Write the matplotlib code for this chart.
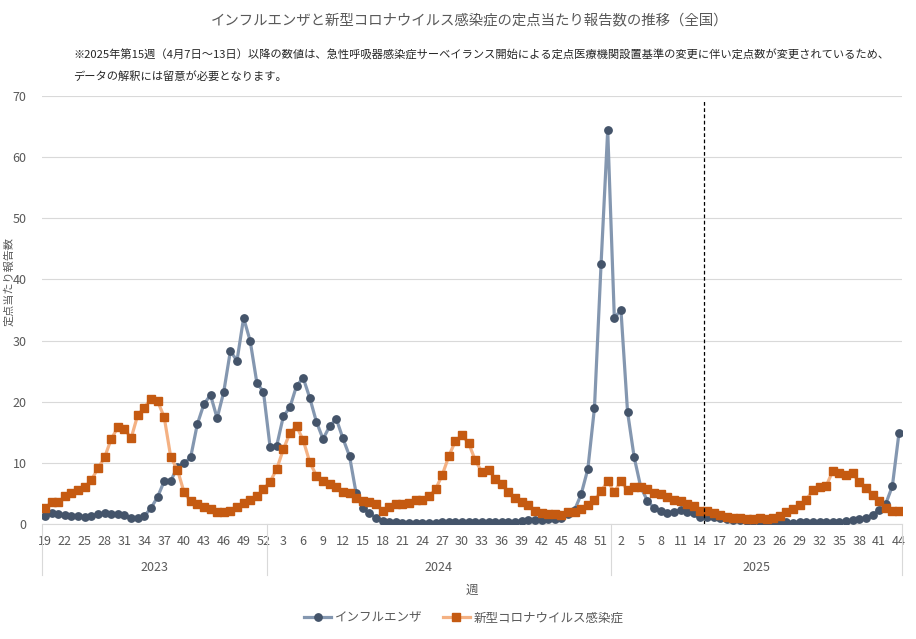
import numpy as np
import matplotlib
matplotlib.use("Agg")
import matplotlib.pyplot as plt

plt.rcParams['font.family'] = ['Noto Sans CJK JP', 'DejaVu Sans']

# weeks shown per year
years = [2023, 2024, 2025]
year_weeks = [list(range(19, 53)), list(range(1, 53)), list(range(1, 45))]

# インフルエンザ (per year)
flu_2023 = [1.3, 1.75, 1.6, 1.4, 1.25, 1.25, 1.1, 1.3, 1.6, 1.75, 1.6, 1.6, 1.4, 1.0, 1.0, 1.3,
            2.6, 4.4, 7.0, 7.0, 9.4, 9.9, 10.9, 16.3, 19.6, 21.1, 17.3, 21.6, 28.3, 26.7, 33.7,
            29.9, 23.1, 21.6]
flu_2024 = [12.6, 12.8, 17.6, 19.1, 22.6, 23.9, 20.6, 16.7, 13.9, 16.0, 17.2, 14.0, 11.1, 5.0,
            2.6, 1.8, 1.0, 0.45, 0.35, 0.3, 0.2, 0.2, 0.2, 0.2, 0.2, 0.2, 0.3, 0.3, 0.3, 0.3,
            0.3, 0.3, 0.3, 0.3, 0.3, 0.4, 0.4, 0.4, 0.55, 0.7, 0.7, 0.6, 0.75, 0.85, 0.9, 1.6,
            2.3, 4.9, 9.0, 19.0, 42.6, 64.4]
flu_2025 = [33.7, 35.0, 18.3, 10.9, 6.0, 3.8, 2.6, 2.1, 1.8, 2.0, 2.3, 2.0, 1.75, 1.1, 1.2,
            1.1, 0.9, 0.75, 0.6, 0.6, 0.45, 0.45, 0.3, 0.3, 0.3, 0.3, 0.3, 0.2, 0.3, 0.3, 0.3,
            0.3, 0.3, 0.3, 0.35, 0.45, 0.6, 0.75, 1.0, 1.5, 2.3, 3.3, 6.2, 14.9]

# 新型コロナウイルス感染症 (per year)
covid_2023 = [2.6, 3.55, 3.55, 4.5, 5.0, 5.5, 6.0, 7.2, 9.1, 10.9, 13.9, 15.8, 15.6, 14.0, 17.8,
              19.0, 20.5, 20.1, 17.5, 10.9, 8.9, 5.2, 3.7, 3.2, 2.7, 2.4, 1.9, 1.9, 2.2, 2.7,
              3.4, 4.0, 4.5, 5.7]
covid_2024 = [6.9, 9.0, 12.2, 14.9, 16.0, 13.7, 10.1, 7.9, 7.0, 6.5, 6.0, 5.2, 5.0, 4.2, 3.7,
              3.55, 3.2, 2.2, 2.7, 3.2, 3.2, 3.4, 3.9, 4.0, 4.5, 5.7, 8.0, 11.1, 13.6, 14.5,
              13.2, 10.4, 8.5, 8.9, 7.4, 6.5, 5.2, 4.2, 3.55, 3.1, 2.2, 1.75, 1.6, 1.6, 1.4,
              1.9, 1.9, 2.4, 3.1, 3.9, 5.35, 7.0]
covid_2025 = [5.2, 7.0, 5.5, 6.0, 6.0, 5.7, 5.0, 4.9, 4.4, 4.0, 3.7, 3.2, 2.9, 2.1, 2.1, 1.75,
              1.4, 1.1, 0.9, 0.9, 0.75, 0.75, 0.9, 0.75, 0.9, 1.25, 1.9, 2.4, 3.1, 4.0, 5.5,
              6.0, 6.2, 8.7, 8.4, 8.0, 8.3, 6.8, 5.85, 4.7, 3.7, 2.6, 2.2, 2.2]

flu = flu_2023 + flu_2024 + flu_2025
covid = covid_2023 + covid_2024 + covid_2025
weeks = [w for ws in year_weeks for w in ws]
x = np.arange(len(weeks))

grey = '#595959'

fig = plt.figure(figsize=(9.16, 6.39), dpi=100)
ax = fig.add_axes([41.7 / 916, 1 - 524 / 639, 860.6 / 916, 428 / 639])

ax.plot(x, flu, color='#8497B0', lw=2.3, marker='o', ms=5.3,
        mfc='#44546A', mec='#44546A', label='インフルエンザ', zorder=3)
ax.plot(x, covid, color='#F4B183', lw=2.3, marker='s', ms=5.3,
        mfc='#C55A11', mec='#C55A11', label='新型コロナウイルス感染症', zorder=4)

# change of sentinel sites from 2025 week 15
ax.plot([99.5, 99.5], [0, 69.5], color='black', lw=0.9, ls=(0, (3, 2)), zorder=5)

ax.set_xlim(-0.5, len(weeks) - 0.5)
ax.set_ylim(0, 70)
ax.set_yticks(range(0, 71, 10))
ax.set_xticks(x[::3])
ax.set_xticklabels([str(w) for w in weeks[::3]])
ax.tick_params(axis='both', length=0, labelsize=9, labelcolor=grey)
ax.tick_params(axis='x', pad=8)
ax.tick_params(axis='y', pad=11)
ax.grid(axis='y', color='#D9D9D9', lw=0.8)
ax.set_axisbelow(True)
for s in ['top', 'right', 'left']:
    ax.spines[s].set_visible(False)
ax.spines['bottom'].set_color('#D9D9D9')

# year groups under the week labels
trans = ax.get_xaxis_transform()
start = 0
bounds = [-0.5]
for yr, ws in zip(years, year_weeks):
    end = start + len(ws)
    ax.text((start + end - 1) / 2, -0.1005, str(yr), transform=trans,
            ha='center', va='center', fontsize=9, color=grey)
    bounds.append(end - 0.5)
    start = end
for b in bounds:
    ax.plot([b, b], [0, -0.119], transform=trans, color='#D9D9D9', lw=0.8, clip_on=False)

fig.text(470 / 916, 1 - 20 / 639, 'インフルエンザと新型コロナウイルス感染症の定点当たり報告数の推移（全国）',
         ha='center', va='center', fontsize=10.4, color=grey)
fig.text(73 / 916, 1 - 55 / 639,
         '※2025年第15週（4月7日～13日）以降の数値は、急性呼吸器感染症サーベイランス開始による定点医療機関設置基準の変更に伴い定点数が変更されているため、',
         ha='left', va='center', fontsize=8.1, color='#262626')
fig.text(73 / 916, 1 - 76 / 639, 'データの解釈には留意が必要となります。',
         ha='left', va='center', fontsize=8.1, color='#262626')
fig.text(9 / 916, 1 - 282 / 639, '定点当たり報告数', rotation=90,
         ha='center', va='center', fontsize=8, color=grey)
fig.text(472 / 916, 1 - 590 / 639, '週', ha='center', va='center', fontsize=9, color=grey)

leg = fig.legend(loc='center', bbox_to_anchor=(464 / 916, 1 - 618 / 639), ncol=2,
                 frameon=False, fontsize=9, handlelength=2.2, columnspacing=1.6,
                 handletextpad=0.3)
for t in leg.get_texts():
    t.set_color(grey)

fig.savefig('out.png', dpi=100)
